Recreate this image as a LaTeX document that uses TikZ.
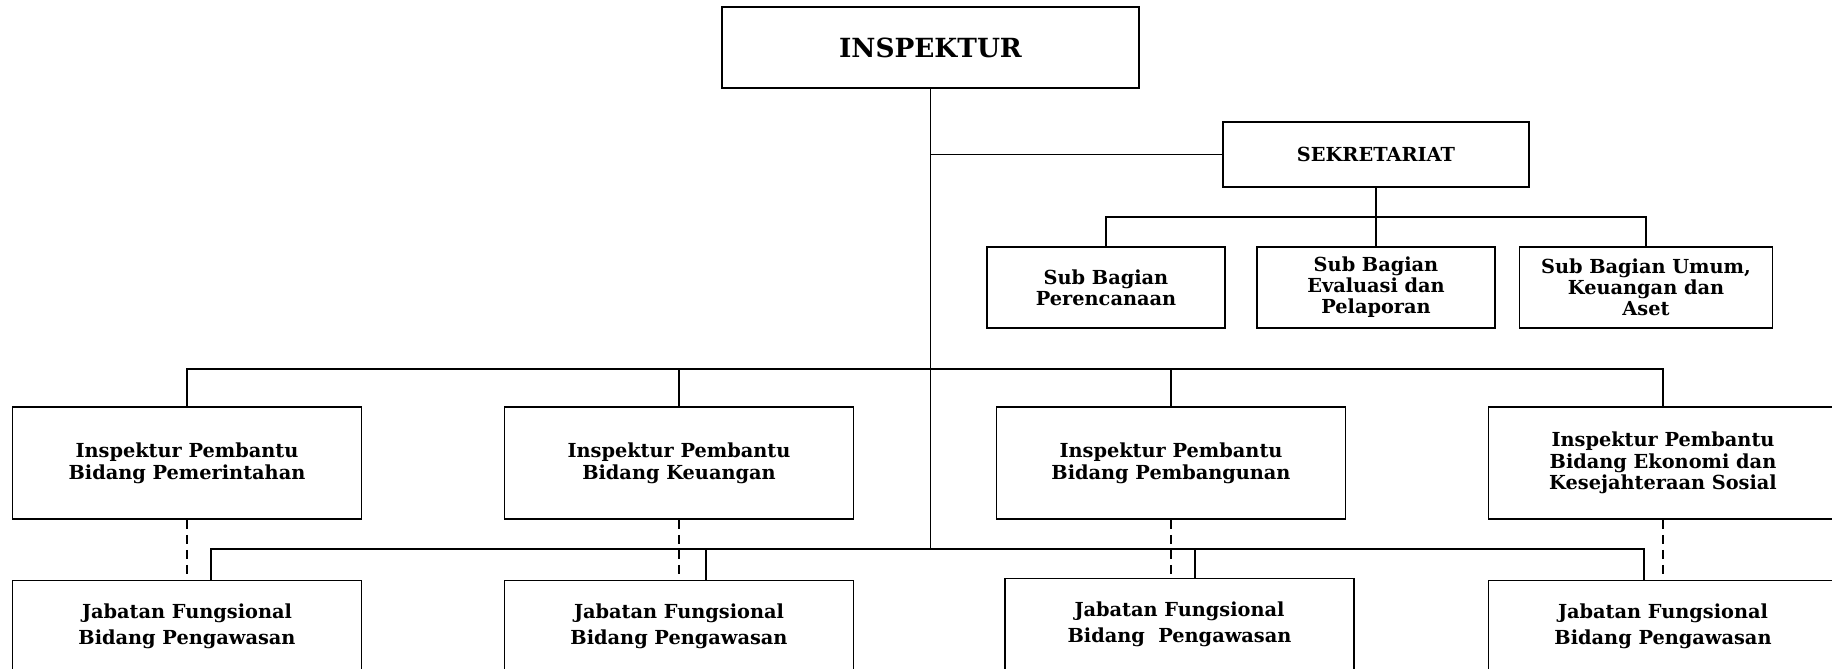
\documentclass[tikz,border=0pt]{standalone}
\usepackage{fontspec}
\setmainfont{DejaVu Serif}
\usepackage{tikz}
\usetikzlibrary{positioning}
\tikzstyle{topbox} = [rectangle, minimum width=8.34cm, minimum height=1.62cm, text centered, draw=black, line width=1.1pt, font=\bfseries\fontsize{15}{18}\selectfont]
\tikzstyle{sekbox} = [rectangle, minimum width=6.12cm, minimum height=1.30cm, text centered, draw=black, line width=1.1pt, font=\bfseries\fontsize{11}{13}\selectfont]
\tikzstyle{subbox} = [rectangle, minimum width=4.76cm, minimum height=1.62cm, align=center, draw=black, line width=1.1pt, inner sep=1pt, font=\bfseries\fontsize{11}{11.9}\selectfont]
\tikzstyle{ipbox} = [rectangle, minimum width=6.98cm, minimum height=2.24cm, align=center, draw=black, line width=1.1pt, font=\bfseries\fontsize{11}{12.4}\selectfont]
\tikzstyle{jfbox} = [rectangle, minimum width=6.98cm, minimum height=1.82cm, align=center, draw=black, line width=1.1pt, font=\bfseries\fontsize{11}{14.6}\selectfont]
\tikzstyle{line} = [line width=1pt]
\tikzstyle{dashline} = [line width=1pt, dash pattern=on 5pt off 3.5pt]

\begin{document}
\begin{tikzpicture}[node distance=9.84cm]
    \useasboundingbox (0,0) rectangle (36.64,-13.36);
    %nodes
    \node (insp) [topbox] at (18.61,-0.95) {INSPEKTUR};
    \node (sub2) [subbox] at (27.52,-5.75) {Sub Bagian\\Evaluasi dan\\Pelaporan};
    \node (sub1) [subbox, left of=sub2, node distance=5.4cm] {Sub Bagian\\Perencanaan};
    \node (sub3) [subbox, right of=sub2, node distance=5.4cm, minimum width=5.06cm] {Sub Bagian Umum,\\Keuangan dan\\Aset};
    \node (sekr) [sekbox, above of=sub2, node distance=2.66cm] {SEKRETARIAT};

    \node (ip1) [ipbox] at (3.74,-9.26) {Inspektur Pembantu\\Bidang Pemerintahan};
    \node (ip2) [ipbox, right of=ip1] {Inspektur Pembantu\\Bidang Keuangan};
    \node (ip3) [ipbox, right of=ip2] {Inspektur Pembantu\\Bidang Pembangunan};
    \node (ip4) [ipbox, right of=ip3] {Inspektur Pembantu\\Bidang Ekonomi dan\\Kesejahteraan Sosial};

    \node (jf1) [jfbox, below of=ip1, node distance=3.26cm] {Jabatan Fungsional\\Bidang Pengawasan};
    \node (jf2) [jfbox, below of=ip2, node distance=3.26cm] {Jabatan Fungsional\\Bidang Pengawasan};
    \node (jf3) [jfbox, below of=ip3, node distance=3.26cm, xshift=0.17cm, yshift=0.04cm] {Jabatan Fungsional\\Bidang~ Pengawasan};
    \node (jf4) [jfbox, below of=ip4, node distance=3.26cm] {Jabatan Fungsional\\Bidang Pengawasan};

    \coordinate (subbus) at (27.52,-4.34);
    \coordinate (mainbus) at (18.61,-7.38);
    \coordinate (lowbus) at (18.61,-10.98);

    %arrows
    \draw [line] (insp.south) -- (lowbus);
    \draw [line] (insp) |- (sekr);
    \draw [line] (sekr) -- (sub2);
    \draw [line] (sub1.north) |- (subbus) -| (sub3.north);

    \draw [line] (ip1.north) |- (mainbus) -| (ip4.north);
    \draw [line] (ip2.north) -- (ip2.north |- mainbus);
    \draw [line] (ip3.north) -- (ip3.north |- mainbus);

    \draw [line] ([xshift=0.48cm]jf1.north) |- (lowbus) -| ([xshift=-0.38cm]jf4.north);
    \draw [line] ([xshift=0.54cm]jf2.north) -- ([xshift=0.54cm]jf2.north |- lowbus);
    \draw [line] ([xshift=0.31cm]jf3.north) -- ([xshift=0.31cm]jf3.north |- lowbus);

    \draw [dashline] (ip1) -- (jf1);
    \draw [dashline] (ip2) -- (jf2);
    \draw [dashline] (ip3.south) -- (ip3.south |- jf3.north);
    \draw [dashline] (ip4) -- (jf4);

    \end{tikzpicture}
\end{document}
